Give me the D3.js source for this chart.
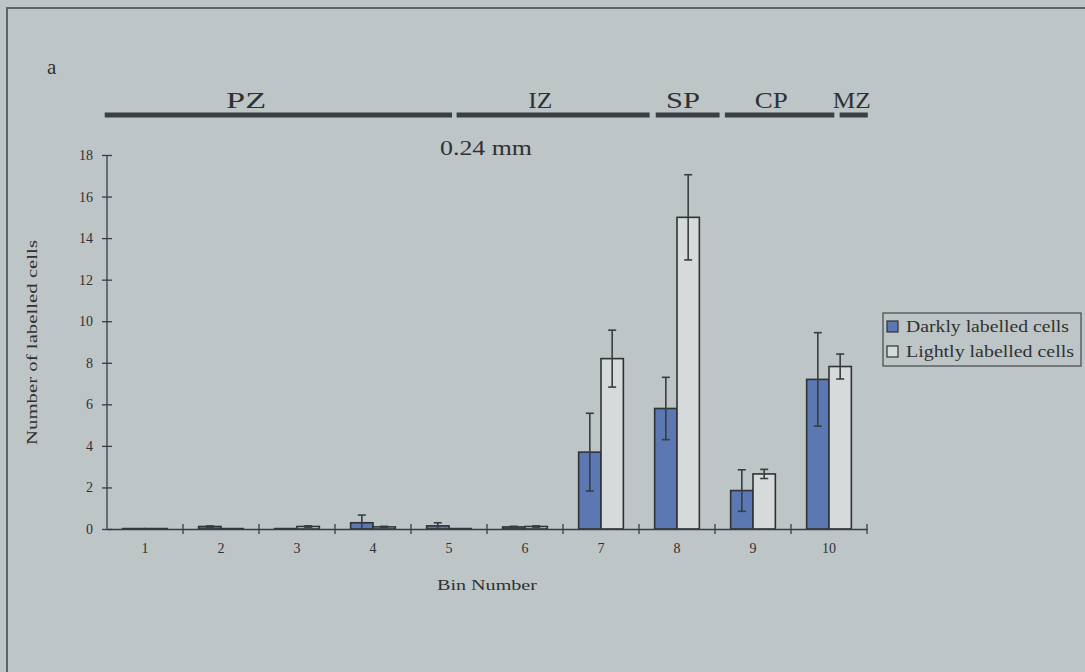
<!DOCTYPE html>
<html>
<head>
<meta charset="utf-8">
<script src="https://cdn.jsdelivr.net/npm/d3@7"></script>
<style>
  html, body { margin: 0; padding: 0; background: #bec5c6; }
  svg { display: block; font-family: "Liberation Serif", "DejaVu Serif", serif; }
</style>
</head>
<body>
<svg id="chart" width="1085" height="672"></svg>
<script>
// data
const bins = ['1', '2', '3', '4', '5', '6', '7', '8', '9', '10'];
const seriesNames = ['Darkly labelled cells', 'Lightly labelled cells'];
const darkValues = [0.02, 0.12, 0.02, 0.3, 0.15, 0.1, 3.7, 5.8, 1.85, 7.2];
const darkErrors = [0, 0.03, 0, 0.37, 0.15, 0.03, 1.87, 1.5, 1.0, 2.25];
const lightValues = [0.02, 0.02, 0.12, 0.1, 0.02, 0.12, 8.2, 15.0, 2.65, 7.82];
const lightErrors = [0, 0, 0.03, 0.03, 0, 0.03, 1.37, 2.05, 0.22, 0.6];
const yTicks = [0, 2, 4, 6, 8, 10, 12, 14, 16, 18];

// cortical zones, in bin units along the x axis
const zoneNames = ['PZ', 'IZ', 'SP', 'CP', 'MZ'];
const zoneStart = [-0.03, 4.6, 7.22, 8.13, 9.64];
const zoneEnd = [4.54, 7.14, 8.06, 9.57, 10.01];
const zoneLabelAt = [1.83, 5.7, 7.58, 8.74, 9.8];

const svg = d3.select('#chart');
const ink = '#2e3133';

svg.append('rect').attr('width', 1085).attr('height', 672).attr('fill', '#bec5c6');
// scanned frame edges
svg.append('path')
  .attr('d', 'M7,672 V8 H1085')
  .attr('fill', 'none').attr('stroke', '#5d6264').attr('stroke-width', 2);

const plot = { left: 107, right: 867, top: 155, bottom: 529 };

const x = d3.scaleBand().domain(bins).range([plot.left, plot.right]).paddingInner(0).paddingOuter(0);
const xs = d3.scaleBand().domain(seriesNames).range([0, x.bandwidth()]).paddingInner(0).paddingOuter(0.7);
const y = d3.scaleLinear().domain([0, 18]).range([plot.bottom, plot.top]);
const zx = d3.scaleLinear().domain([0, 10]).range([plot.left, plot.right]);

// wide scanned lettering: stretch text to the width seen in the figure
function wide(sel, w) {
  return sel.attr('textLength', w).attr('lengthAdjust', 'spacingAndGlyphs');
}

// "a" panel letter
svg.append('text').attr('x', 47).attr('y', 74).attr('font-size', 21).attr('fill', ink).text('a');

// zone bars
const zoneWidths = [40, 24, 34, 33, 38];
const zones = zoneNames.map((n, i) => ({ name: n, s: zoneStart[i], e: zoneEnd[i], at: zoneLabelAt[i], w: zoneWidths[i] }));
svg.selectAll('line.zone').data(zones).join('line')
  .attr('class', 'zone')
  .attr('x1', d => zx(d.s)).attr('x2', d => zx(d.e))
  .attr('y1', 115).attr('y2', 115)
  .attr('stroke', '#3c3f42').attr('stroke-width', 5);
svg.selectAll('text.zone').data(zones).join('text')
  .attr('class', 'zone')
  .attr('x', d => zx(d.at) - d.w / 2).attr('y', 108)
  .attr('font-size', 23).attr('fill', ink)
  .attr('textLength', d => d.w).attr('lengthAdjust', 'spacingAndGlyphs')
  .text(d => d.name);

wide(svg.append('text').attr('x', 440).attr('y', 155)
  .attr('font-size', 20).attr('fill', ink).text('0.24 mm'), 92);

// bars
const rows = [];
bins.forEach((b, i) => {
  rows.push({ bin: b, s: seriesNames[0], v: darkValues[i], e: darkErrors[i] });
  rows.push({ bin: b, s: seriesNames[1], v: lightValues[i], e: lightErrors[i] });
});
const fill = d3.scaleOrdinal().domain(seriesNames).range(['#5b78b3', '#d6dadb']);

const g = svg.append('g');
g.selectAll('rect.bar').data(rows).join('rect')
  .attr('class', 'bar')
  .attr('x', d => x(d.bin) + xs(d.s))
  .attr('width', xs.bandwidth())
  .attr('y', d => y(d.v))
  .attr('height', d => y(0) - y(d.v))
  .attr('fill', d => fill(d.s))
  .attr('stroke', '#2f3336').attr('stroke-width', 1.6);

// error bars
const err = g.selectAll('g.err').data(rows.filter(d => d.e > 0)).join('g').attr('class', 'err')
  .attr('stroke', '#3a3d40').attr('stroke-width', 1.6);
const cx = d => x(d.bin) + xs(d.s) + xs.bandwidth() / 2;
err.append('line').attr('x1', cx).attr('x2', cx)
  .attr('y1', d => y(d.v + d.e)).attr('y2', d => y(Math.max(0, d.v - d.e)));
err.append('line').attr('x1', d => cx(d) - 4).attr('x2', d => cx(d) + 4)
  .attr('y1', d => y(d.v + d.e)).attr('y2', d => y(d.v + d.e));
err.append('line').attr('x1', d => cx(d) - 4).attr('x2', d => cx(d) + 4)
  .attr('y1', d => y(Math.max(0, d.v - d.e))).attr('y2', d => y(Math.max(0, d.v - d.e)));

// y axis with cross ticks
const yAxis = svg.append('g').attr('transform', `translate(${plot.left},0)`)
  .call(d3.axisLeft(y).tickValues(yTicks).tickSize(5).tickPadding(9));
yAxis.select('.domain').attr('stroke', '#3a3d40').attr('stroke-width', 1.3).attr('d', `M0,${plot.bottom}V${plot.top}`);
yAxis.selectAll('.tick line').attr('x1', -5).attr('x2', 5).attr('stroke', '#3a3d40').attr('stroke-width', 1.3);
yAxis.selectAll('.tick text').attr('font-size', 14).attr('fill', ink).attr('font-family', 'Liberation Serif');

// x axis with cross ticks at band edges
const xAxis = svg.append('g').attr('transform', `translate(0,${plot.bottom})`)
  .call(d3.axisBottom(x).tickSize(0).tickPadding(14));
xAxis.select('.domain').attr('stroke', '#3a3d40').attr('stroke-width', 1.3);
xAxis.selectAll('.tick text').attr('font-size', 14).attr('fill', ink).attr('font-family', 'Liberation Serif');
xAxis.selectAll('line.edge').data(bins.slice(1).concat(['end'])).join('line')
  .attr('class', 'edge')
  .attr('x1', d => d === 'end' ? plot.right : x(d)).attr('x2', d => d === 'end' ? plot.right : x(d))
  .attr('y1', -5).attr('y2', 5)
  .attr('stroke', '#3a3d40').attr('stroke-width', 1.3);

// axis titles
wide(svg.append('text').attr('x', 437).attr('y', 590)
  .attr('font-size', 14.5).attr('fill', ink).text('Bin Number'), 100);
wide(svg.append('text').attr('transform', `translate(37,${(plot.top + plot.bottom) / 2 + 103}) rotate(-90)`)
  .attr('font-size', 14.5).attr('fill', ink).text('Number of labelled cells'), 205);

// legend
const lg = svg.append('g').attr('transform', 'translate(883,313)');
lg.append('rect').attr('width', 198).attr('height', 53)
  .attr('fill', 'none').attr('stroke', '#4d5153').attr('stroke-width', 1.3);
const legendWidths = [163, 168];
const li = lg.selectAll('g.item').data(seriesNames).join('g')
  .attr('class', 'item').attr('transform', (d, i) => `translate(4,${8 + i * 25})`);
li.append('rect').attr('width', 11).attr('height', 11)
  .attr('fill', d => fill(d)).attr('stroke', '#2f3336').attr('stroke-width', 1.2);
li.append('text').attr('x', 19).attr('y', 11).attr('font-size', 16).attr('fill', ink)
  .attr('textLength', (d, i) => legendWidths[i]).attr('lengthAdjust', 'spacingAndGlyphs')
  .text(d => d);
</script>
</body>
</html>
